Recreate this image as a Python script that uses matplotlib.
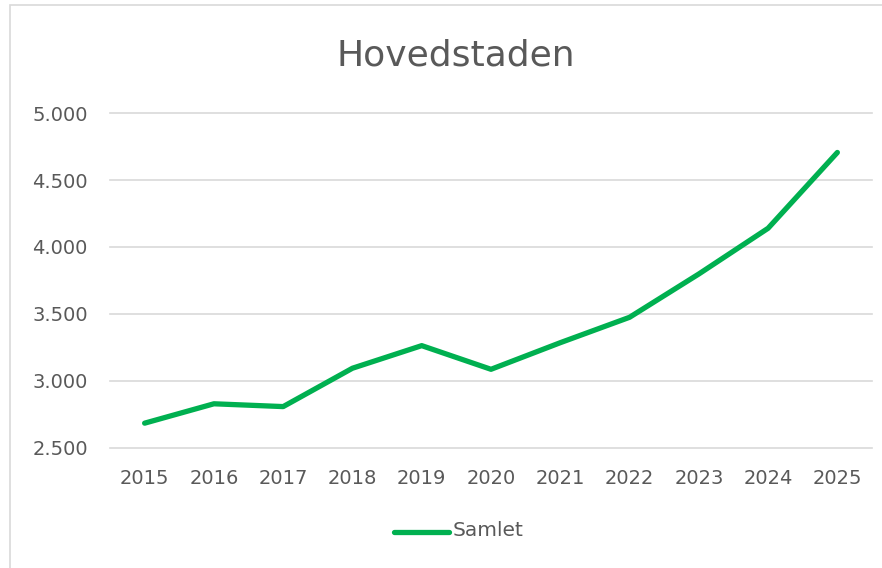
import matplotlib.pyplot as plt
from matplotlib.patches import Rectangle
from matplotlib.lines import Line2D
from matplotlib.ticker import FuncFormatter

years = ['2015', '2016', '2017', '2018', '2019', '2020', '2021', '2022', '2023', '2024', '2025']
samlet = [2682, 2827, 2806, 3093, 3262, 3085, 3284, 3474, 3798, 4140, 4707]
yticks = [2500, 3000, 3500, 4000, 4500, 5000]

grey = '#595959'
green = '#00B050'

fig = plt.figure(figsize=(8.82, 5.68), dpi=100)

# chart area frame (cropped on right and bottom)
fig.patches.append(Rectangle((10 / 882, -0.1), 1.2, 1 - 5 / 568 + 0.1,
                             transform=fig.transFigure, fill=False,
                             edgecolor='#D9D9D9', linewidth=1.2))

ax = fig.add_axes([110 / 882, 1 - 447.5 / 568, (872 - 110) / 882, (447.5 - 113.3) / 568])
x = range(len(years))
ax.plot(x, samlet, color=green, linewidth=3.8, solid_capstyle='round',
        solid_joinstyle='round', zorder=3)

ax.set_xlim(-0.5, len(years) - 0.5)
ax.set_ylim(2500, 5000)
ax.set_xticks(list(x))
ax.set_xticklabels(years)
ax.set_yticks(yticks)
ax.yaxis.set_major_formatter(FuncFormatter(lambda v, p: f'{int(v):,}'.replace(',', '.')))
ax.grid(axis='y', color='#D9D9D9', linewidth=1.2)
for gl in ax.get_ygridlines():
    gl.set_clip_on(False)
ax.set_axisbelow(True)
for s in ax.spines.values():
    s.set_visible(False)
ax.tick_params(length=0, labelsize=14, labelcolor=grey)
ax.tick_params(axis='x', pad=15.5)
ax.tick_params(axis='y', pad=16)
for lbl in ax.get_xticklabels() + ax.get_yticklabels():
    lbl.set_family('DejaVu Sans')

fig.text(456 / 882, 1 - 55 / 568, 'Hovedstaden', ha='center', va='center',
         fontsize=26, color=grey, family='DejaVu Sans')

# legend
fig.lines.append(Line2D([394 / 882, 449 / 882], [1 - 531.5 / 568] * 2,
                        transform=fig.transFigure, color=green, linewidth=3.8,
                        solid_capstyle='round'))
fig.text(453 / 882, 1 - 531 / 568, 'Samlet', ha='left', va='center',
         fontsize=14.5, color=grey, family='DejaVu Sans')

fig.savefig('out.png', dpi=100)
